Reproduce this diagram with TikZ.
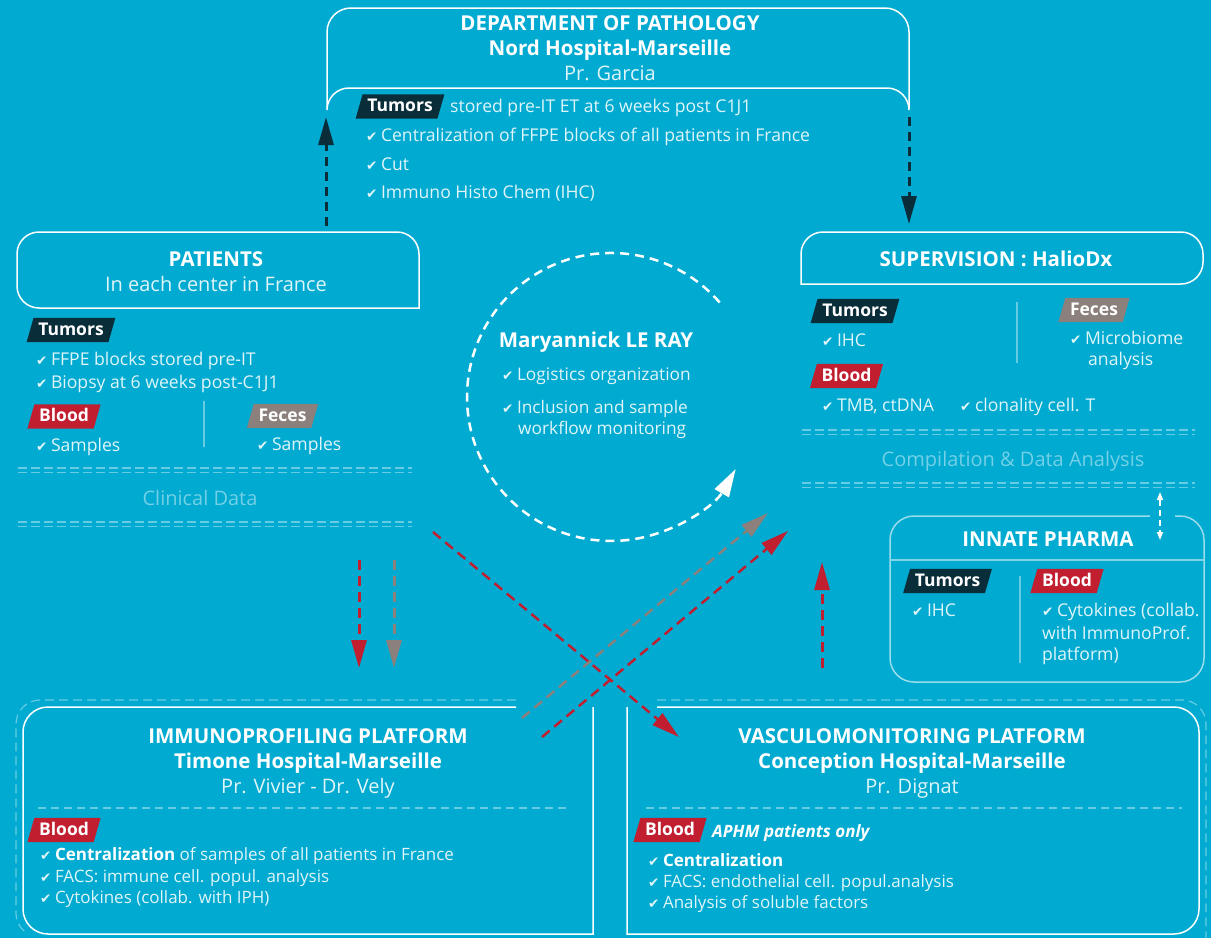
\documentclass[tikz,border=0pt]{standalone}
\usepackage{fontspec}
\setmainfont{Open Sans}
\newfontfamily\dejavu{DejaVu Sans}
\usetikzlibrary{arrows.meta}
\definecolor{bgc}{RGB}{0,170,209}
\definecolor{navy}{RGB}{10,45,58}
\definecolor{tred}{RGB}{193,30,48}
\definecolor{tgray}{RGB}{140,128,124}
\colorlet{lighttext}{white!88!bgc}
\colorlet{faint}{white!45!bgc}
\colorlet{faintline}{white!40!bgc}
\pgfdeclarelayer{bglayer}
\pgfdeclarelayer{taglayer}
\pgfsetlayers{bglayer,taglayer,main}
\newcommand\ck{{\dejavu\fontsize{13.5}{13.5}\selectfont\symbol{"2714}}\hspace{3.5pt}}
\newcommand\mktag[4]{%
  \node[tagtxt] (#1) at (#2) {#4};
  \begin{pgfonlayer}{taglayer}
  \fill[#3] ([xshift=-3.5pt]#1.south west) -- ([xshift=3.5pt]#1.north west) -- ([xshift=3.5pt]#1.north east) -- ([xshift=-3.5pt]#1.south east) -- cycle;
  \end{pgfonlayer}}
\tikzset{
  box/.style={draw=white, line width=1.5pt},
  tagtxt/.style={text=white, font=\bfseries\fontsize{17.5}{20}\selectfont, inner xsep=8pt, inner ysep=0pt, text height=13pt, text depth=3pt, minimum height=24pt},
  hdr/.style={text=white, font=\bfseries\fontsize{20.5}{24}\selectfont, inner sep=0pt, anchor=base},
  sub/.style={text=lighttext, font=\fontsize{20}{24}\selectfont, inner sep=0pt, anchor=base},
  item/.style={text=lighttext, font=\fontsize{17.6}{22}\selectfont, inner sep=0pt, anchor=base west},
  sitem/.style={text=lighttext, font=\fontsize{17}{21}\selectfont, inner sep=0pt, anchor=base west},
  fainttxt/.style={text=faint, font=\fontsize{20}{24}\selectfont, inner sep=0pt, anchor=base},
  sep/.style={draw=faintline, line width=1.3pt, dash pattern=on 9pt off 4pt},
  divider/.style={draw=faintline, line width=1.2pt},
  navyarrow/.style={draw=navy, line width=3pt, dash pattern=on 9pt off 6pt, -{Triangle[length=28pt,width=15pt]}},
  redv/.style={draw=tred, line width=3pt, dash pattern=on 10pt off 6pt, -{Triangle[length=28pt,width=15pt]}},
  grayv/.style={draw=tgray, line width=3pt, dash pattern=on 10pt off 6pt, -{Triangle[length=28pt,width=15pt]}},
  diag/.style={line width=2.5pt, dash pattern=on 10pt off 6pt, -{Triangle[length=28pt,width=15pt]}},
}
\begin{document}
\begin{tikzpicture}[x=1pt,y=-1pt]
\begin{pgfonlayer}{bglayer}
\fill[bgc] (0,0) rectangle (1211,938);
\end{pgfonlayer}
\useasboundingbox (0,0) rectangle (1211,938);

% ---------------- Department of pathology
\draw[box] (327,108) -- (327,32) arc[start angle=180,end angle=90,radius=24pt] -- (885,8) arc[start angle=90,end angle=0,radius=24pt] -- (909,108);
\draw[box] (327,110) arc[start angle=180,end angle=90,radius=22pt] -- (887,88) arc[start angle=90,end angle=0,radius=22pt];
\node[hdr] (dep1) at (610,30) {DEPARTMENT OF PATHOLOGY};
\node[hdr] (dep2) at (610,55) {Nord Hospital-Marseille};
\node[sub] (dep3) at (610,80) {Pr. Garcia};
\mktag{deptag}{400,106.5}{navy}{Tumors}
\node[item] (dept0) at (450,112) {stored pre-IT ET at 6 weeks post C1J1};
\node[item] (dept1) at (366,141) {\ck Centralization of FFPE blocks of all patients in France};
\node[item] (dept2) at (366,170) {\ck Cut};
\node[item] (dept3) at (366,198) {\ck Immuno Histo Chem (IHC)};

% ---------------- Patients
\draw[box] (419,308) -- (39,308) arc[start angle=270,end angle=180,radius=22pt] -- (17,254) arc[start angle=180,end angle=90,radius=22pt] -- (397,232) arc[start angle=90,end angle=0,radius=22pt] -- cycle;
\node[hdr] (pat1) at (216,266) {PATIENTS};
\node[sub] (pat2) at (216,291) {In each center in France};
\mktag{pattum}{71,330}{navy}{Tumors}
\node[item] (pati1) at (36,365) {\ck FFPE blocks stored pre-IT};
\node[item] (pati2) at (36,388) {\ck Biopsy at 6 weeks post-C1J1};
\mktag{patblood}{64,416.5}{tred}{Blood}
\node[item] (pati3) at (36,451) {\ck Samples};
\draw[divider] (204,401) -- (204,447);
\mktag{patfeces}{282.5,416}{tgray}{Feces}
\node[item] (pati4) at (257,450) {\ck Samples};
\draw[sep] (18,468) -- (412,468);
\draw[sep] (18,472.5) -- (412,472.5);
\node[fainttxt] (clin) at (200,505) {Clinical Data};
\draw[sep] (18,522) -- (412,522);
\draw[sep] (18,526.5) -- (412,526.5);

% ---------------- Supervision
\draw[box] (801,284) -- (801,254) arc[start angle=180,end angle=90,radius=22pt] -- (1181,232) arc[start angle=90,end angle=0,radius=22pt] -- (1203,262) arc[start angle=0,end angle=-90,radius=22pt] -- cycle;
\node[hdr] (sup1) at (996,266) {SUPERVISION : HalioDx};
\mktag{suptum}{855,311}{navy}{Tumors}
\node[item] (supi1) at (822,346) {\ck IHC};
\draw[divider] (1017,302) -- (1017,363);
\mktag{supfeces}{1094,310}{tgray}{Feces}
\node[item] (supi2) at (1070,344) {\ck Microbiome};
\node[item] (supi2b) at (1088,365) {analysis};
\mktag{supblood}{846.5,376}{tred}{Blood}
\node[item] (supi3) at (822,411) {\ck TMB, ctDNA};
\node[item] (supi4) at (960,411) {\ck clonality cell. T};
\draw[sep] (802,430) -- (1195,430);
\draw[sep] (802,434.5) -- (1195,434.5);
\node[fainttxt] (comp) at (1013,466) {Compilation \& Data Analysis};
\draw[sep] (802,483) -- (1195,483);
\draw[sep] (802,487.5) -- (1195,487.5);

% ---------------- Innate Pharma
\draw[draw=white!60!bgc, line width=1.5pt] (1150,516) -- (914,516) arc[start angle=90,end angle=180,radius=24pt] -- (890,658) arc[start angle=180,end angle=270,radius=24pt] -- (1180,682) arc[start angle=270,end angle=360,radius=24pt] -- (1204,540) arc[start angle=0,end angle=90,radius=24pt] -- (1175,516);
\draw[draw=white!50!bgc, line width=1.2pt] (890,560) -- (1204,560);
\node[hdr] (inn1) at (1048,546) {INNATE PHARMA};
\mktag{inntum}{947.5,581}{navy}{Tumors}
\node[item] (inni1) at (912,616) {\ck IHC};
\draw[divider] (1020,576) -- (1020,663);
\mktag{innblood}{1067,581}{tred}{Blood}
\node[item] (inni2) at (1042,616) {\ck Cytokines (collab.};
\node[item] (inni3) at (1042,639) {with ImmunoProf.};
\node[item] (inni4) at (1042,660) {platform)};
\coordinate (dbl1) at (1160,492);
\coordinate (dbl2) at (1160,540);
\draw[white, line width=1.5pt, dash pattern=on 6pt off 4pt, {Triangle[length=8pt,width=6pt]}-{Triangle[length=8pt,width=6pt]}] (dbl1) -- (dbl2);

% ---------------- Central
\node[hdr] (mlr) at (596,347) {Maryannick LE RAY};
\node[item, font=\fontsize{17.3}{21}\selectfont] (mlr1) at (502,380) {\ck Logistics organization};
\node[item, font=\fontsize{17.3}{21}\selectfont] (mlr2) at (502,413) {\ck Inclusion and sample};
\node[item, font=\fontsize{17.3}{21}\selectfont] (mlr3) at (518,434) {workflow monitoring};
\coordinate (arcstart) at (719.7,302.5);
\draw[white, line width=2.5pt, dash pattern=on 9pt off 6pt, -{Triangle[length=28pt,width=16pt]}] (arcstart) arc[start angle=41, end angle=330, radius=144pt];

% ---------------- Bottom left: Immunoprofiling
\draw[faintline, line width=1.2pt, dash pattern=on 9pt off 5pt] (516,700) -- (40,700) arc[start angle=90,end angle=180,radius=24pt] -- (16,913) arc[start angle=180,end angle=240,radius=24pt];
\draw[box] (516,707) -- (48,707) arc[start angle=90,end angle=180,radius=25pt] -- (23,909) arc[start angle=180,end angle=270,radius=25pt] -- (593,934) -- (593,707);
\node[hdr] (imm1) at (308,743) {IMMUNOPROFILING PLATFORM};
\node[hdr] (imm2) at (308,768) {Timone Hospital-Marseille};
\node[sub] (imm3) at (308,793) {Pr. Vivier - Dr. Vely};
\draw[faintline, line width=1.2pt, dash pattern=on 8pt off 5pt] (38,808) -- (570,808);
\mktag{immblood}{64,830}{tred}{Blood}
\node[sitem] (immi1) at (40,860) {\ck \textcolor{white}{\bfseries Centralization} of samples of all patients in France};
\node[sitem] (immi2) at (40,882) {\ck FACS: immune cell. popul. analysis};
\node[sitem] (immi3) at (40,903) {\ck Cytokines (collab. with IPH)};

% ---------------- Bottom right: Vasculomonitoring
\draw[faintline, line width=1.2pt, dash pattern=on 9pt off 5pt] (657,700) -- (1182,700) arc[start angle=90,end angle=0,radius=24pt] -- (1206,938);
\draw[box] (657,707) -- (1174,707) arc[start angle=90,end angle=0,radius=25pt] -- (1199,909) arc[start angle=0,end angle=-90,radius=25pt] -- (627,934) -- (627,707);
\node[hdr] (vas1) at (912,743) {VASCULOMONITORING PLATFORM};
\node[hdr] (vas2) at (912,768) {Conception Hospital-Marseille};
\node[sub] (vas3) at (912,793) {Pr. Dignat};
\draw[faintline, line width=1.2pt, dash pattern=on 8pt off 5pt] (646,808) -- (1182,808);
\mktag{vasblood}{670,830}{tred}{Blood}
\node[sitem, anchor=base west, text=white, font=\bfseries\itshape\fontsize{17}{21}\selectfont] (aphm) at (712,837) {APHM patients only};
\node[sitem] (vasi1) at (648,866) {\ck \textcolor{white}{\bfseries Centralization}};
\node[sitem] (vasi2) at (648,887) {\ck FACS: endothelial cell. popul.analysis};
\node[sitem] (vasi3) at (648,908) {\ck Analysis of soluble factors};

% ---------------- Connectors
\coordinate (na1) at (326,226);
\coordinate (na2) at (326,117);
\draw[navyarrow] (na1) -- (na2);
\coordinate (nb1) at (909,117);
\coordinate (nb2) at (909,224);
\draw[navyarrow] (nb1) -- (nb2);
\coordinate (r1a) at (359,560);
\coordinate (r1b) at (359,668);
\draw[redv] (r1a) -- (r1b);
\coordinate (g1a) at (394,560);
\coordinate (g1b) at (394,668);
\draw[grayv] (g1a) -- (g1b);
\coordinate (r2a) at (822,668);
\coordinate (r2b) at (822,562);
\draw[redv] (r2a) -- (r2b);
\coordinate (x1a) at (433,532);
\coordinate (x1b) at (679,737);
\draw[diag, draw=tred] (x1a) -- (x1b);
\coordinate (x2a) at (522,718);
\coordinate (x2b) at (768,513);
\draw[diag, draw=tgray] (x2a) -- (x2b);
\coordinate (x3a) at (542,737);
\coordinate (x3b) at (788,531);
\draw[diag, draw=tred] (x3a) -- (x3b);
\end{tikzpicture}
\end{document}
